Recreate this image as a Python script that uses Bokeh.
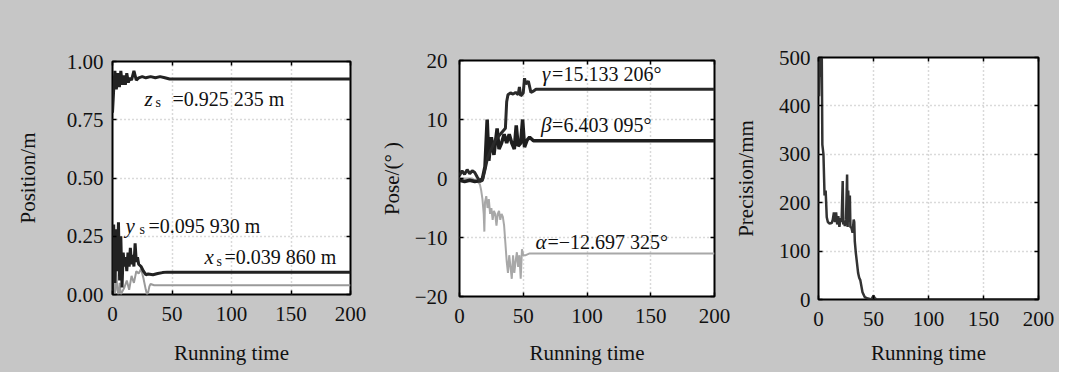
from bokeh.plotting import figure
from bokeh.layouts import row
from bokeh.models import Range1d, FixedTicker, LinearAxis
from bokeh.core.properties import value
from bokeh.embed import file_html
from bokeh.resources import INLINE

FONT = "Liberation Serif"
BG = "#c6c6c6"

x_ticks = [0, 50, 100, 150, 200]
x_tick_labels = ["0", "50", "100", "150", "200"]

# Panel 1: position
pos_ticks = [0.0, 0.25, 0.5, 0.75, 1.0]
pos_tick_labels = ["0.00", "0.25", "0.50", "0.75", "1.00"]
t_z = [0, 1, 2, 3.2, 4.5, 5.8, 7, 8.2, 9.5, 10.8, 12, 13.3, 14.5, 16, 18, 20, 22, 25, 28, 32, 36,
       40, 44, 48, 200]
z_s = [0.78, 0.88, 0.96, 0.88, 0.95, 0.89, 0.96, 0.90, 0.94, 0.90, 0.95, 0.91, 0.93, 0.92, 0.96,
       0.92, 0.93, 0.935, 0.93, 0.935, 0.93, 0.935, 0.93, 0.925, 0.925]
t_y = [0, 1, 2, 3, 4, 5, 6, 7, 8, 9, 10, 11, 12, 13, 14, 15, 16, 17, 18, 19, 20, 21, 22, 24, 26,
       28, 30, 34, 38, 42, 46, 50, 200]
y_s = [0.0, 0.30, 0.05, 0.28, 0.10, 0.31, 0.06, 0.25, 0.03, 0.18, 0.12, 0.16, 0.10, 0.18, 0.12,
       0.20, 0.13, 0.17, 0.12, 0.22, 0.14, 0.16, 0.13, 0.12, 0.10, 0.085, 0.088, 0.085, 0.09,
       0.094, 0.096, 0.0959, 0.0959]
t_x = [0, 1, 2, 3, 4, 5, 6, 7, 8, 10, 12, 14, 16, 18, 20, 22, 24, 26, 28, 29, 30, 31, 32, 35, 40,
       50, 200]
x_s = [0.0, 0.02, 0.0, 0.12, 0.02, 0.0, 0.05, 0.0, 0.01, 0.03, 0.06, 0.02, 0.08, 0.05, 0.10, 0.09,
       0.11, 0.07, 0.02, 0.0, 0.01, 0.035, 0.045, 0.040, 0.040, 0.0399, 0.0399]

# Panel 2: pose
pose_ticks = [-20, -10, 0, 10, 20]
pose_tick_labels = ["\u221220", "\u221210", "0", "10", "20"]
t_gamma = [0, 2, 4, 6, 8, 10, 12, 14, 16, 18, 20, 22, 24, 26, 28, 30, 32, 34, 36, 37, 38, 40, 42,
           44, 46, 47, 48, 50, 51, 52, 54, 56, 58, 60, 200]
gamma = [0.5, 1.3, 0.7, 1.5, 0.8, 1.3, 1.0, 0.2, -0.5, -0.3, 1.5, 3.5, 4.5, 5.5, 6.5, 7.0, 7.5,
         8.0, 8.5, 13.0, 14.2, 14.5, 14.3, 14.6, 14.2, 15.5, 14.0, 14.5, 17.0, 16.0, 16.5, 14.6,
         14.8, 15.13, 15.13]
t_beta = [0, 4, 8, 12, 16, 18, 20, 21.7, 23, 25, 27, 29.5, 31, 33, 35, 37, 39, 41, 43, 44.5, 46,
          48, 49.5, 51, 53, 55, 58, 200]
beta = [-0.3, -0.5, -0.3, -0.5, -0.4, 0.0, 2.0, 10.0, 3.0, 7.0, 4.0, 8.5, 5.0, 6.0, 7.5, 6.0, 7.5,
        6.0, 5.0, 9.0, 5.5, 6.0, 10.0, 5.3, 6.5, 7.0, 6.4, 6.403]
t_alpha = [0, 5, 10, 14, 16, 17, 18, 19, 19.5, 20, 21, 22, 23, 24, 25, 26, 27, 28, 29, 30, 31, 32,
           33, 34, 35, 36, 37, 38, 39, 40, 41, 42, 43, 44, 45, 46, 47, 48, 49, 50, 51, 52, 55, 58,
           60, 200]
alpha = [0, 0, 0, -0.5, -1, -2, -3.5, -6, -9, -4, -3, -5, -3.5, -6, -5, -7, -5.5, -6, -8, -6,
         -5.5, -7, -6, -6.5, -8, -11, -14, -16, -13, -15, -17, -13, -16, -14, -12.5, -15, -13, -17,
         -12, -13, -13, -13, -12.7, -12.7, -12.697, -12.697]

# Panel 3: precision
prec_ticks = [0, 100, 200, 300, 400, 500]
prec_tick_labels = ["0", "100", "200", "300", "400", "500"]
t_prec = [0, 0.5, 1, 1.5, 2, 2.5, 3, 3.5, 4.5, 5.5, 6.5, 7.5, 8.5, 10, 12, 13, 14, 15, 16, 17, 18,
          19, 20, 21, 22, 22.5, 23, 24, 25, 26, 26.5, 27, 28, 28.5, 29, 30, 31, 32, 32.5, 33, 34,
          35, 36, 37, 38, 40, 42, 45, 48, 50, 51, 53, 55, 200]
precision = [500, 420, 500, 460, 500, 480, 500, 320, 300, 215, 225, 170, 160, 157, 158, 165, 180,
             160, 180, 155, 172, 150, 168, 160, 245, 155, 160, 152, 165, 258, 150, 225, 160, 215,
             150, 148, 138, 165, 160, 120, 95, 75, 55, 45, 40, 15, 5, 2, 0, 8, 3, 0, 0, 0]

H = 372


def make_fig(width, bl, br, bt, bb, yr, yticks, ylabels, ylabel, yax_stand, xax_stand,
             ystand):
    p = figure(width=width, height=H, x_range=Range1d(0, 200), y_range=Range1d(*yr),
               output_backend="svg", toolbar_location=None,
               min_border_left=bl, min_border_right=br, min_border_top=bt, min_border_bottom=bb)
    p.frame_align = False
    p.border_fill_color = BG
    p.background_fill_color = "white"
    p.outline_line_color = "black"
    p.outline_line_width = 2
    for ax in (p.xaxis[0], p.yaxis[0]):
        ax.axis_line_color = None
        ax.major_tick_in = 4
        ax.major_tick_out = 0
        ax.major_tick_line_color = "black"
        ax.major_tick_line_width = 1.5
        ax.minor_tick_line_color = None
        ax.major_label_text_font = FONT
        ax.major_label_text_font_size = "21px"
        ax.major_label_text_color = "#111111"
        ax.axis_label_text_font = FONT
        ax.axis_label_text_font_size = "21px"
        ax.axis_label_text_font_style = "normal"
        ax.axis_label_text_color = "#111111"
    p.xaxis.ticker = FixedTicker(ticks=x_ticks)
    p.xaxis.major_label_overrides = dict(zip(x_ticks, x_tick_labels))
    p.xaxis.axis_label = "Running time"
    p.xaxis.major_label_standoff = 12
    p.xaxis.axis_label_standoff = xax_stand
    p.yaxis.ticker = FixedTicker(ticks=yticks)
    p.yaxis.major_label_overrides = dict(zip(yticks, ylabels))
    p.yaxis.axis_label = ylabel
    p.yaxis.major_label_standoff = ystand
    p.yaxis.axis_label_standoff = yax_stand
    # mirrored inward ticks on top and right
    top = LinearAxis(ticker=FixedTicker(ticks=x_ticks), major_label_text_font_size="1px",
                     major_label_text_color=None, axis_line_color=None, major_tick_in=4,
                     major_tick_out=0, major_tick_line_width=1.5, minor_tick_line_color=None)
    right = LinearAxis(ticker=FixedTicker(ticks=yticks), major_label_text_font_size="1px",
                       major_label_text_color=None, axis_line_color=None, major_tick_in=4,
                       major_tick_out=0, major_tick_line_width=1.5, minor_tick_line_color=None)
    p.add_layout(top, "above")
    p.add_layout(right, "right")
    p.grid.grid_line_color = "#b4b4b4"
    p.grid.grid_line_dash = "1 3"
    p.grid.grid_line_width = 1.5
    p.xgrid.ticker = FixedTicker(ticks=x_ticks)
    p.ygrid.ticker = FixedTicker(ticks=yticks)
    return p


def annot(p, x, y, var, sub, rest, dx_sub, dx_rest):
    common = dict(text_font=value(FONT), text_baseline="alphabetic", text_align="left",
                  text_color="#111111")
    p.text(x=[x], y=[y], text=[var], y_offset=-7, text_font_style="italic",
           text_font_size="21px", **common)
    if sub:
        p.text(x=[x], y=[y], text=[sub], x_offset=dx_sub, y_offset=-3, text_font_size="14px",
               **common)
    p.text(x=[x], y=[y], text=[rest], x_offset=dx_rest, y_offset=-7, text_font_size="20px",
           **common)


# Figure 1 (frame x 112-350, y 61-294)
p1 = make_fig(372, 112, 22, 61, H - 294, (0, 1), pos_ticks, pos_tick_labels, "Position/m",
              24, 17, 9)
p1.line(t_x, x_s, line_color="#9a9a9a", line_width=2)
p1.line(t_y, y_s, line_color="#222222", line_width=3)
p1.line(t_z, z_s, line_color="#222222", line_width=3)
annot(p1, 26.9, 0.811, "z", "s", "=0.925 235 m", 11, 28)
annot(p1, 10.9, 0.266, "y", "s", "=0.095 930 m", 14, 23)
annot(p1, 77.3, 0.129, "x", "s", "=0.039 860 m", 12, 20)

# Figure 2 (frame x 459-714, y 60-296)
p2 = make_fig(358, 87, 16, 60, H - 296, (-20, 20), pose_ticks, pose_tick_labels,
              "Pose/(\u00b0 )", 8, 15, 12)
p2.line(t_alpha, alpha, line_color="#a8a8a8", line_width=2)
p2.line(t_beta, beta, line_color="#1e1e1e", line_width=3.5)
p2.line(t_gamma, gamma, line_color="#2a2a2a", line_width=3)
annot(p2, 64.8, 16.6, "\u03b3", "", "=15.133 206\u00b0", 0, 10)
annot(p2, 64.0, 7.8, "\u03b2", "", "=6.403 095\u00b0", 0, 11)
annot(p2, 59.6, -11.9, "\u03b1", "", "=\u221212.697 325\u00b0", 0, 12)

# Figure 3 (frame x 806-1038, y 57-299)
p3 = make_fig(329, 76, 21, 57, H - 299, (0, 500), prec_ticks, prec_tick_labels, "Precision/mm",
              18, 12, 8)
p3.line(t_prec, precision, line_color="#333333", line_width=2.5)

layout = row(p1, p2, p3, spacing=0, styles={"background-color": BG})
open("out.html", "w").write(file_html(layout, INLINE))
